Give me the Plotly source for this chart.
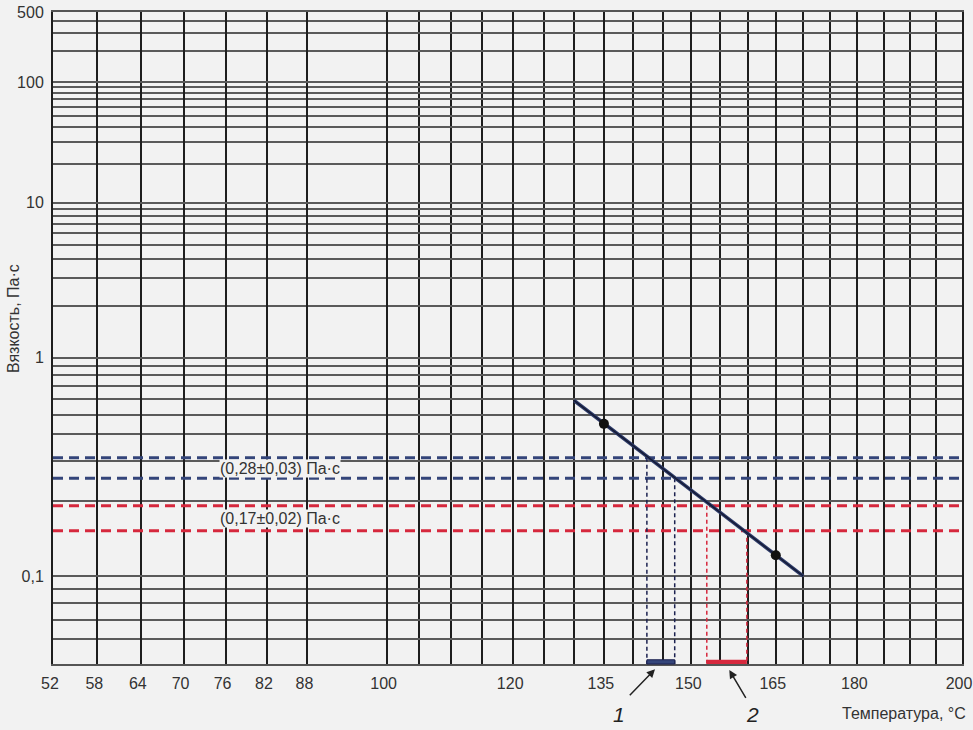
import numpy as np
import plotly.graph_objects as go

# ---- data ----
x_labels = [52, 58, 64, 70, 76, 82, 88, 100, 120, 135, 150, 165, 180, 200]
x_grid = [52, 58, 64, 70, 76, 82, 88] + list(range(100, 201, 5))
y_labels = [500, 100, 10, 1, 0.1]
y_label_text = ["500", "100", "10", "1", "0,1"]
y_grid = [500, 400, 300, 200,
          100, 90, 80, 70, 60, 50, 40, 30, 20,
          10, 9, 8, 7, 6, 5, 4, 3, 2,
          1, 0.9, 0.8, 0.7, 0.6, 0.5, 0.4, 0.3, 0.2,
          0.1, 0.09, 0.08, 0.07, 0.06, 0.05]

line_temp = [130, 170]
line_visc = [0.59, 0.10]
pts_temp = [135, 165]
pts_visc = [0.45, 0.12]

blue_visc = [0.31, 0.25]      # (0,28±0,03) Па·с
blue_temp = [142.3, 147.1]
red_visc = [0.19, 0.15]       # (0,17±0,02) Па·с
red_temp = [152.7, 159.8]

T_MIN, T_MAX = 52, 200
V_MIN, V_MAX = 0.05, 500


# chart scales: x = log10(T, K); y = log10(log10(viscosity, mPa·s))
def fx(t):
    return np.log10(np.asarray(t, dtype=float) + 273.0)


def fy(v):
    return np.log10(np.log10(np.asarray(v, dtype=float) * 1000.0))


BLUE = "#34457a"
BLUE_DARK = "#1c2250"
RED = "#d6283d"
TXT = "#333333"
BG = "#f2f2f2"
FONT = "Liberation Sans, Arial, sans-serif"

fig = go.Figure()

# horizontal dashed tolerance lines
for v in blue_visc:
    fig.add_trace(go.Scatter(x=fx([T_MIN, T_MAX]), y=fy([v, v]), mode="lines",
                             line=dict(color=BLUE, width=3, dash="10px,6px"),
                             hoverinfo="skip", showlegend=False))
for v in red_visc:
    fig.add_trace(go.Scatter(x=fx([T_MIN, T_MAX]), y=fy([v, v]), mode="lines",
                             line=dict(color=RED, width=3, dash="10px,6px"),
                             hoverinfo="skip", showlegend=False))

# vertical drop lines
for t, v in zip(blue_temp, blue_visc):
    fig.add_trace(go.Scatter(x=fx([t, t]), y=fy([v, V_MIN]), mode="lines",
                             line=dict(color=BLUE_DARK, width=1.5, dash="4px,3px"),
                             hoverinfo="skip", showlegend=False))
for t, v in zip(red_temp, red_visc):
    fig.add_trace(go.Scatter(x=fx([t, t]), y=fy([v, V_MIN]), mode="lines",
                             line=dict(color=RED, width=1.5, dash="4px,3px"),
                             hoverinfo="skip", showlegend=False))

# viscosity-temperature line
fig.add_trace(go.Scatter(x=fx(line_temp), y=fy(line_visc), mode="lines",
                         line=dict(color="#2c3a68", width=3.5),
                         hoverinfo="skip", showlegend=False))
fig.add_trace(go.Scatter(x=fx(line_temp), y=fy(line_visc), mode="lines",
                         line=dict(color="#141830", width=1.2),
                         hoverinfo="skip", showlegend=False))
fig.add_trace(go.Scatter(x=fx(pts_temp), y=fy(pts_visc), mode="markers",
                         marker=dict(color="#111111", size=10),
                         hoverinfo="skip", showlegend=False))

# bottom range bars
fig.add_shape(type="rect", xref="x", yref="paper",
              x0=float(fx(blue_temp[0])), x1=float(fx(blue_temp[1])), y0=0, y1=0.0065,
              fillcolor=BLUE, line=dict(color=BLUE_DARK, width=1), layer="above")
fig.add_shape(type="rect", xref="x", yref="paper",
              x0=float(fx(red_temp[0])), x1=float(fx(red_temp[1])), y0=0, y1=0.0065,
              fillcolor=RED, line=dict(width=0), layer="above")

x_minor = [t for t in x_grid if t not in x_labels]
y_minor = [v for v in y_grid if v not in y_labels]

fig.update_xaxes(
    range=[float(fx(T_MIN)), float(fx(T_MAX))],
    tickvals=list(fx(x_labels)), ticktext=[str(t) for t in x_labels],
    ticks="outside", ticklen=4, tickcolor="rgba(0,0,0,0)",
    ticklabelshift=-3, ticklabeloverflow="allow",
    showgrid=True, gridcolor="#1e1e1e", gridwidth=1.6,
    minor=dict(tickvals=list(fx(x_minor)), showgrid=True, gridcolor="#1e1e1e",
               gridwidth=1.6, ticks=""),
    zeroline=False, showline=True, linecolor="#555555", linewidth=2, mirror=True,
    tickfont=dict(family=FONT, size=16, color=TXT), automargin=False,
)
fig.update_yaxes(
    range=[float(fy(V_MIN)), float(fy(V_MAX))],
    tickvals=list(fy(y_labels)), ticktext=y_label_text,
    ticks="outside", ticklen=4, tickcolor="rgba(0,0,0,0)",
    ticklabeloverflow="allow",
    showgrid=True, gridcolor="#5a5a5a", gridwidth=2,
    minor=dict(tickvals=list(fy(y_minor)), showgrid=True, gridcolor="#5a5a5a",
               gridwidth=2, ticks=""),
    zeroline=False, showline=True, linecolor="#1e1e1e", linewidth=2, mirror=True,
    tickfont=dict(family=FONT, size=16, color=TXT), automargin=False,
)

ann = []
# tolerance band labels
ann.append(dict(x=float(fx(84)), y=float((fy(blue_visc[0]) + fy(blue_visc[1])) / 2),
                xref="x", yref="y", text="(0,28±0,03) Па·с", showarrow=False,
                xanchor="center", yanchor="middle",
                bgcolor=BG, borderpad=0, font=dict(family=FONT, size=16, color=TXT)))
ann.append(dict(x=float(fx(84)), y=float((fy(red_visc[0]) + fy(red_visc[1])) / 2),
                xref="x", yref="y", text="(0,17±0,02) Па·с", showarrow=False,
                xanchor="center", yanchor="middle",
                bgcolor=BG, borderpad=0, font=dict(family=FONT, size=16, color=TXT)))
# axis titles
ann.append(dict(x=1.0066, y=-0.0759, xref="paper", yref="paper", xanchor="right",
                yanchor="middle", text="Температура, °С", showarrow=False,
                font=dict(family=FONT, size=16, color=TXT)))
ann.append(dict(x=-0.044, y=0.529, xref="paper", yref="paper", textangle=-90,
                xanchor="center", yanchor="middle", text="Вязкость, Па·с", showarrow=False,
                font=dict(family=FONT, size=16, color=TXT)))
# number labels with arrows
ann.append(dict(x=0.6227, y=-0.0782, xref="paper", yref="paper", text="<i>1</i>",
                xanchor="center", yanchor="middle",
                showarrow=False, font=dict(family=FONT, size=21, color="#222222")))
ann.append(dict(x=0.770, y=-0.0782, xref="paper", yref="paper", text="<i>2</i>",
                xanchor="center", yanchor="middle",
                showarrow=False, font=dict(family=FONT, size=21, color="#222222")))
ann.append(dict(x=0.6623, y=-0.0081, xref="paper", yref="paper", text="",
                showarrow=True, arrowhead=2, arrowsize=1.1, arrowwidth=1.5,
                arrowcolor="#222222", ax=-26.7, ay=27.4))
ann.append(dict(x=0.744, y=-0.0092, xref="paper", yref="paper", text="",
                showarrow=True, arrowhead=2, arrowsize=1.1, arrowwidth=1.5,
                arrowcolor="#222222", ax=17.4, ay=29.3))

fig.update_layout(
    width=973, height=730,
    margin=dict(l=53, r=11, t=12, b=66, autoexpand=False),
    paper_bgcolor=BG, plot_bgcolor=BG,
    annotations=ann,
    showlegend=False,
    font=dict(family=FONT, size=16, color=TXT),
)

fig.write_html(
    "out.html",
    config={"displayModeBar": False},
    post_script="document.body.style.margin='0';document.body.style.background='#f2f2f2';",
)
